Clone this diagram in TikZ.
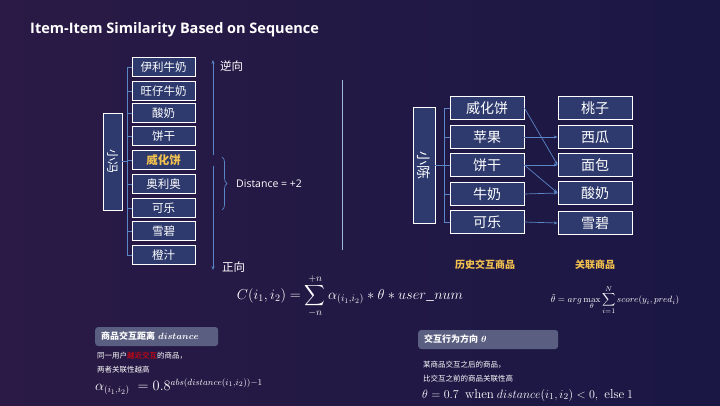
\documentclass[tikz,border=0pt]{standalone}
\usepackage{amsmath}
\usepackage[no-math]{fontspec}
\setmainfont{Noto Sans CJK SC}
\newfontfamily\cjk{Noto Sans CJK SC}
\newfontfamily\lmr{Latin Modern Roman}
\usetikzlibrary{arrows.meta,decorations.pathreplacing}
\definecolor{bgA}{HTML}{1A1745}
\definecolor{bgB}{HTML}{2A1A45}
\definecolor{boxf}{HTML}{2E3A6E}
\definecolor{lineb}{HTML}{5A86C8}
\definecolor{gold}{HTML}{F2C14E}
\definecolor{tagf}{HTML}{5A5E80}
\tikzset{
 item/.style={draw=white,fill=boxf,line width=0.8pt,minimum width=63pt,minimum height=19pt,inner sep=0pt,text=white,font=\cjk\fontsize{11.5}{11.5}\selectfont},
 itemb/.style={item,minimum width=74pt,minimum height=23pt,font=\cjk\fontsize{14}{14}\selectfont},
 user/.style={draw=white,fill=boxf,line width=0.8pt,inner sep=0pt,text=white},
 con/.style={lineb,line width=0.7pt},
 arr/.style={con,-{Stealth[length=4pt]}},
 tag/.style={fill=tagf,rounded corners=3pt,text=white,anchor=west,inner sep=0pt,align=left,text width=#1,font=\cjk\bfseries\fontsize{9}{9}\selectfont},
 small/.style={text=white,anchor=west,font=\cjk\fontsize{7.5}{8}\selectfont,inner sep=0pt},
 txt/.style={text=white,inner sep=0pt}
}
\begin{document}
\begin{tikzpicture}[x=1pt,y=-1pt]
\shade[top color=bgA,bottom color=bgB,left color=bgB,right color=bgA] (0,0) rectangle (720,405);
\useasboundingbox (0,0) rectangle (720,405);
\node[txt,anchor=west,font=\fontspec{Open Sans}\bfseries\fontsize{14.5}{14.5}\selectfont] (title) at (30,30) {Item-Item Similarity Based on Sequence};
% left
\foreach \t/\y [count=\i] in {伊利牛奶/67,旺仔牛奶/91,酸奶/113,饼干/136,威化饼/160,奥利奥/184,可乐/208,雪碧/231,橙汁/255}{
 \node[item] (l\i) at (163.5,\y) {\t};
 \draw[con] (127,\y) -- (l\i.west);
}
\node[item,text=gold,font=\cjk\bfseries\fontsize{11.5}{11.5}\selectfont] at (l5) {威化饼};
\node[user,minimum width=19pt,minimum height=97pt] (u1) at (112.5,161.5) {};
\node[txt,rotate=-90,font=\cjk\fontsize{12}{12}\selectfont] at (u1) {小冯};
\draw[con] (127,67) -- (127,255);
\draw[con] (u1.east) -- (127,161.5);
\draw[arr] (213,155) -- (213,60);
\draw[arr] (213,166) -- (213,270);
\node[txt,anchor=west,font=\cjk\fontsize{11.5}{11.5}\selectfont] (ni) at (220,66) {逆向};
\node[txt,anchor=west,font=\cjk\fontsize{11.5}{11.5}\selectfont] (zh) at (222,267) {正向};
\draw[con,decorate,decoration={brace,amplitude=5pt}] (222,157) -- (222,210);
\node[txt,anchor=west,font=\fontspec{Open Sans}\fontsize{10.5}{10.5}\selectfont] (dist) at (236,183.5) {Distance = +2};
\draw[lineb!60,line width=0.5pt] (342,80) -- (342,250);
% right
\node[user,minimum width=22pt,minimum height=116pt] (u2) at (424,165) {};
\node[txt,rotate=-90,font=\cjk\fontsize{14}{14}\selectfont] at (u2) {小陈};
\draw[con] (444,108) -- (444,222);
\draw[con] (u2.east) -- (444,165);
\foreach \t/\y [count=\i] in {威化饼/108,苹果/137,饼干/165,牛奶/194,可乐/222}{
 \node[itemb] (h\i) at (487,\y) {\t};
 \draw[con] (444,\y) -- (h\i.west);
}
\foreach \t/\y [count=\i] in {桃子/108,西瓜/137,面包/165,酸奶/193,雪碧/223}{
 \node[itemb] (r\i) at (595,\y) {\t};
}
\draw[arr] (h1.east) -- (r3.west);
\draw[arr] (h2.east) -- (r2.west);
\draw[arr] (h3.east) -- (r3.west);
\draw[arr] (h3.east) -- (r4.west);
\draw[arr] (h4.east) -- (r4.west);
\draw[arr] (h5.east) -- (r5.west);
\node[txt,text=gold,font=\cjk\bfseries\fontsize{10}{10}\selectfont] (lab1) at (485,265) {历史交互商品};
\node[txt,text=gold,font=\cjk\bfseries\fontsize{10}{10}\selectfont] (lab2) at (595,265) {关联商品};
% formulas
\node[txt,font=\fontsize{14.5}{14.5}\selectfont] (f1) at (350,296) {$C(i_1,i_2)=\displaystyle\sum_{-n}^{+n}\alpha_{(i_1,i_2)}*\theta*user\_num$};
\node[txt,font=\fontsize{9.5}{9.5}\selectfont] (f2) at (615,300) {$\tilde\theta=arg\max\limits_{\theta}\displaystyle\sum_{i=1}^{N}score(y_i,pred_i)$};
% bottom left
\node[tag=123pt,minimum height=19pt] (t1) at (95,336.5) {\hspace*{6pt}商品交互距离 $\boldsymbol{distance}$};
\node[small] (s1) at (97,356) {同一用户\textcolor{red}{越近交互}的商品，};
\node[small] (s2) at (97,370) {两者关联性越高};
\node[txt,anchor=west,font=\fontsize{13.5}{13.5}\selectfont] (e1) at (95,387) {$\alpha_{(i_1,i_2)}\;=0.8^{abs(distance(i_1,i_2))-1}$};
% bottom right
\node[tag=140pt,minimum height=19pt] (t2) at (418,339.5) {\hspace*{6pt}交互行为方向 $\boldsymbol\theta$};
\node[small] (s3) at (423,365) {某商品交互之后的商品，};
\node[small] (s4) at (423,379) {比交互之前的商品关联性高};
\node[txt,anchor=west,font=\fontsize{13}{13}\selectfont] (e2) at (422,395) {$\theta=0.7\;$ {\lmr when} $distance(i_1,i_2)<0,\;$ {\lmr else} $1$};
\end{tikzpicture}
\end{document}
